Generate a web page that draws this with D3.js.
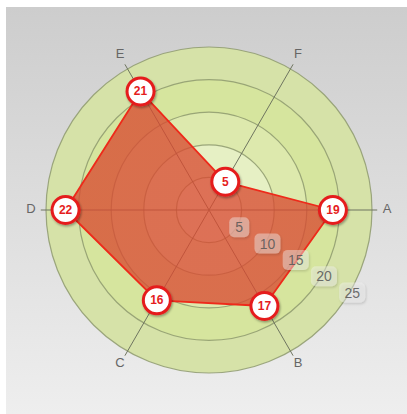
<!DOCTYPE html>
<html><head><meta charset="utf-8">
<script src="https://cdn.jsdelivr.net/npm/d3@7"></script>
<style>html,body{margin:0;padding:0;background:#fff;}svg{display:block;}</style>
</head><body>
<script>
const categories = ["A","B","C","D","E","F"];
const values = [19,17,16,22,21,5];
const tickValues = [5,10,15,20,25];

const W = 407, H = 414;
const cx = 209, cy = 210, R = 163;
const svg = d3.select("body").append("svg").attr("width", W).attr("height", H);
const defs = svg.append("defs");

const bg = defs.append("linearGradient").attr("id","bg").attr("x1",0).attr("y1",0).attr("x2",0).attr("y2",1);
bg.append("stop").attr("offset","0%").attr("stop-color","#cdcdcd");
bg.append("stop").attr("offset","100%").attr("stop-color","#eeeeee");

const pf = defs.append("radialGradient").attr("id","pf").attr("gradientUnits","userSpaceOnUse")
  .attr("cx",cx).attr("cy",cy).attr("r",R);
pf.append("stop").attr("offset","0%").attr("stop-color","#e8706f").attr("stop-opacity",0.82);
pf.append("stop").attr("offset","30%").attr("stop-color","#e06a5c").attr("stop-opacity",0.8);
pf.append("stop").attr("offset","45%").attr("stop-color","#d84a30").attr("stop-opacity",0.77);
pf.append("stop").attr("offset","100%").attr("stop-color","#d84a30").attr("stop-opacity",0.77);

const sh = defs.append("filter").attr("id","sh").attr("x","-50%").attr("y","-50%").attr("width","200%").attr("height","200%");
sh.append("feDropShadow").attr("dx",1).attr("dy",1.5).attr("stdDeviation",1.2).attr("flood-color","#000").attr("flood-opacity",0.35);

svg.append("rect").attr("x",6).attr("y",7).attr("width",W-6).attr("height",H-7).attr("fill","url(#bg)");

const r = d3.scaleLinear().domain([0,25]).range([0,R]);
const angle = d3.scaleBand().domain(categories).range([0, 2*Math.PI]).align(0).paddingInner(0).paddingOuter(0);
const ang = c => angle(c);
const px = (c,v) => cx + r(v)*Math.cos(ang(c));
const py = (c,v) => cy + r(v)*Math.sin(ang(c));

// bands
const bandColors = ["#eef3d6","#e6f0c4","#dde9ad","#d6e59e","#d6e2a8"];
const bands = tickValues.slice().reverse();
svg.append("g").selectAll("circle").data(bands).join("circle")
  .attr("cx",cx).attr("cy",cy).attr("r",d=>r(d))
  .attr("fill",(d)=>bandColors[tickValues.indexOf(d)])
  .attr("stroke","#8e9a6e").attr("stroke-width",1.2).attr("stroke-opacity",0.85);

// spokes
svg.append("g").selectAll("line").data(categories).join("line")
  .attr("x1",cx).attr("y1",cy)
  .attr("x2",c=>px(c,25.8)).attr("y2",c=>py(c,25.8))
  .attr("stroke","#6f7560").attr("stroke-width",1);

// axis labels
svg.append("g").selectAll("text").data(categories).join("text")
  .attr("x",c=>px(c,27.3)).attr("y",c=>py(c,27.3)-2)
  .attr("text-anchor","middle").attr("dominant-baseline","central")
  .attr("font-family","Liberation Sans, Arial, sans-serif").attr("font-size",13)
  .attr("fill","#666").text(c=>c);

// polygon
const line = d3.lineRadial().angle((d,i)=>ang(categories[i])+Math.PI/2).radius(d=>r(d)).curve(d3.curveLinearClosed);
svg.append("path").attr("transform",`translate(${cx},${cy})`)
  .attr("d",line(values)).attr("fill","url(#pf)")
  .attr("stroke","#ee2a1a").attr("stroke-width",1.8).attr("stroke-linejoin","round");

// tick labels
const tAng = Math.PI/6;
const tg = svg.append("g").selectAll("g").data(tickValues).join("g")
  .attr("transform",d=>`translate(${cx + r(d)*Math.cos(tAng) + 2},${cy + r(d)*Math.sin(tAng) + 1})`);
tg.append("rect").attr("x",d=>d<10?-10:-13).attr("y",-10).attr("width",d=>d<10?20:26).attr("height",20).attr("rx",5)
  .attr("fill","#f4f4f4").attr("fill-opacity",0.4).attr("filter","url(#sh)");
tg.append("text").attr("text-anchor","middle").attr("dominant-baseline","central")
  .attr("font-family","Liberation Sans, Arial, sans-serif").attr("font-size",14)
  .attr("fill","#555").attr("fill-opacity",0.85).text(d=>d);

// markers
const mg = svg.append("g").selectAll("g").data(values).join("g")
  .attr("transform",(d,i)=>`translate(${px(categories[i],d)},${py(categories[i],d)})`);
mg.append("circle").attr("r",13.5).attr("fill","#fff").attr("stroke","#e51d1d").attr("stroke-width",3).attr("filter","url(#sh)");
mg.append("text").attr("text-anchor","middle").attr("dominant-baseline","central")
  .attr("font-family","Liberation Sans, Arial, sans-serif").attr("font-size",12).attr("font-weight","bold")
  .attr("fill","#e51d1d").text(d=>d);
</script>
</body></html>
